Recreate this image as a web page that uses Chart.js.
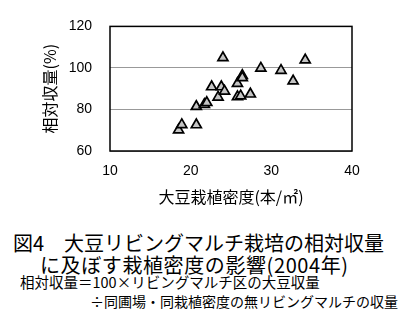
<!DOCTYPE html>
<html>
<head>
<meta charset="utf-8">
<script src="https://cdn.jsdelivr.net/npm/chart.js@4"></script>
<style>
  body { margin: 0; background: #fff; }
  #wrap { position: relative; width: 400px; height: 333px; overflow: hidden; }
  #chartBox { position: absolute; left: 0; top: 0; width: 400px; height: 215px; }
  .cap { position: absolute; white-space: nowrap; color: #000; line-height: 1;
         font-family: "Noto Sans CJK JP", sans-serif; }
</style>
</head>
<body>
<div id="wrap">
  <div id="chartBox"><canvas id="yieldByDensity"></canvas></div>
  <div class="cap" style="left:13px; top:233px; font-size:20px;">図4　大豆リビングマルチ栽培の相対収量</div>
  <div class="cap" style="left:40px; top:255px; font-size:20px; letter-spacing:0.6px;">に及ぼす栽植密度の影響(2004年)</div>
  <div class="cap" style="left:20px; top:275px; font-size:14.5px;">相対収量＝100×リビングマルチ区の大豆収量</div>
  <div class="cap" style="left:90px; top:294px; font-size:14px;">÷同圃場・同栽植密度の無リビングマルチの収量</div>
</div>
<script>
// planting density (plants/m2) and relative yield (%)
const density = [18.5, 18.9, 20.7, 20.7, 21.7, 22.0, 23.4, 22.6, 23.8, 24.2, 24.0,
                 25.8, 26.4, 26.4, 25.8, 26.2, 27.4, 28.7, 31.2, 32.7, 34.2];
const relYield = [70.1, 72.7, 72.6, 81.4, 82.4, 83.3, 85.9, 90.9, 90.9, 88.8, 104.9,
                  92.5, 96.4, 95.3, 86.1, 86.5, 87.4, 99.9, 98.8, 93.7, 103.8];
const xTicks = [10, 20, 30, 40];
const yTicks = [60, 80, 100, 120];

const points = density.map((d, i) => ({ x: d, y: relYield[i] }));

// full black frame around the plot area
const frame = {
    id: 'frame',
    beforeDatasetsDraw(chart) {
        const a = chart.chartArea;
        const ctx = chart.ctx;
        ctx.save();
        ctx.strokeStyle = '#000';
        ctx.lineWidth = 1.5;
        ctx.strokeRect(a.left, a.top, a.right - a.left, a.bottom - a.top);
        ctx.restore();
    }
};

const tickFont = { family: '"Liberation Sans", Arial, sans-serif', size: 14 };
const titleFont = { family: '"Noto Sans CJK JP", sans-serif', size: 16 };

const config = {
    type: 'scatter',
    data: {
        datasets: [{
            data: points,
            pointStyle: 'triangle',
            pointRadius: 5.8,
            pointBackgroundColor: '#c4c4c4',
            pointBorderColor: '#000',
            pointBorderWidth: 1.7
        }]
    },
    options: {
        responsive: true,
        maintainAspectRatio: false,
        animation: false,
        layout: { padding: { top: 14, right: 48, bottom: 0, left: 0 } },
        plugins: { legend: { display: false }, tooltip: { enabled: false } },
        scales: {
            x: {
                type: 'linear',
                min: xTicks[0],
                max: xTicks[xTicks.length - 1],
                afterBuildTicks: s => { s.ticks = xTicks.map(v => ({ value: v })); },
                afterFit: s => { s.height = 64; },
                grid: { display: false, drawTicks: false },
                border: { display: false },
                ticks: { font: tickFont, color: '#000', padding: 12, maxRotation: 0 },
                title: { display: true, text: '大豆栽植密度(本/㎡)', font: titleFont, color: '#000',
                         padding: { top: 0, bottom: 8 } }
            },
            y: {
                type: 'linear',
                min: yTicks[0],
                max: yTicks[yTicks.length - 1],
                afterBuildTicks: s => { s.ticks = yTicks.map(v => ({ value: v })); },
                afterFit: s => { s.width = 110; },
                grid: { color: '#999', lineWidth: 1, drawTicks: false },
                border: { display: false },
                ticks: { font: tickFont, color: '#000', padding: 18 },
                title: { display: true, text: '相対収量(%)', font: { family: '"Noto Sans CJK JP", sans-serif', size: 16 },
                         color: '#000', padding: { top: 40, bottom: 0 } }
            }
        }
    },
    plugins: [frame]
};

const chart = new Chart(// eslint-disable-line
    document.getElementById('yieldByDensity'),
    config
);
</script>
</body>
</html>
